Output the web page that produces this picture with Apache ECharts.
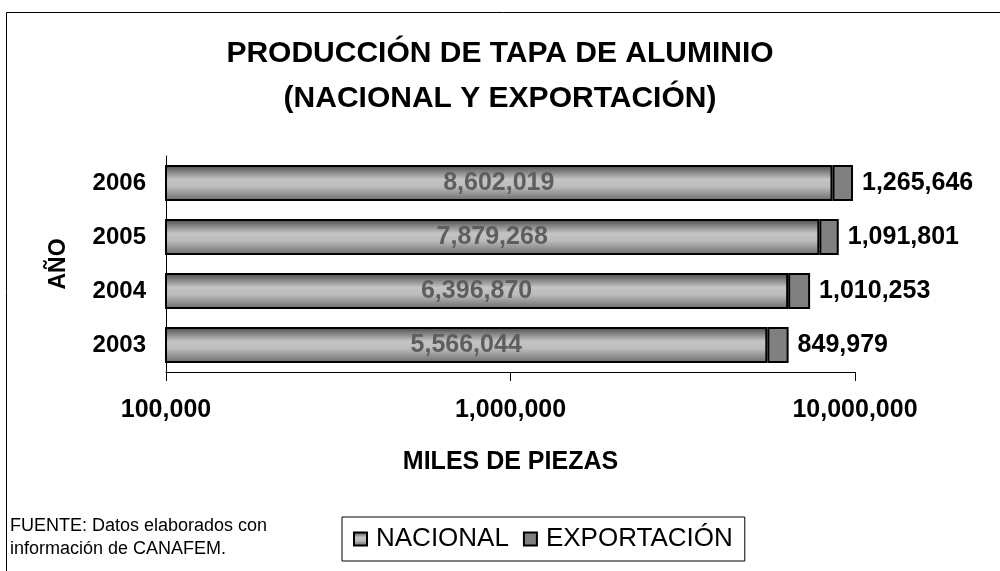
<!DOCTYPE html>
<html>
<head>
<meta charset="utf-8">
<script src="https://cdn.jsdelivr.net/npm/echarts@6/dist/echarts.min.js"></script>
<style>
  html, body { margin: 0; padding: 0; background: #fff; }
  #chart { width: 1000px; height: 571px; }
</style>
</head>
<body>
<div id="chart"></div>
<script>
// datos del gráfico
const years = ['2003', '2004', '2005', '2006'];
const nacional = [5566044, 6396870, 7879268, 8602019];
const exportacion = [849979, 1010253, 1091801, 1265646];
const xTicks = [100000, 1000000, 10000000];

const SANS = '"Liberation Sans", Arial, sans-serif';

const fmt = v => Number(v).toLocaleString('en-US');

const chart = echarts.init(document.getElementById('chart'));

const option = {
  backgroundColor: '#fff',
  animation: false,
  title: {
    text: 'PRODUCCIÓN DE TAPA DE ALUMINIO\n(NACIONAL Y EXPORTACIÓN)',
    left: 'center',
    top: 26,
    textStyle: { fontFamily: SANS, fontWeight: 'bold', fontSize: 30, lineHeight: 45, color: '#000' }
  },
  legend: {
    left: 342,
    top: 517,
    padding: [9, 12, 9, 11],
    borderColor: '#000',
    borderWidth: 1,
    itemWidth: 13,
    itemHeight: 13,
    itemGap: 14,
    icon: 'rect',
    textStyle: { fontFamily: SANS, fontSize: 26, color: '#000', padding: [0, 0, 0, 4] },
    data: ['NACIONAL', 'EXPORTACIÓN']
  },
  grid: { left: 166, right: 145, top: 156, bottom: 199 },
  xAxis: {
    type: 'log',
    logBase: 10,
    min: xTicks[0],
    max: xTicks[xTicks.length - 1],
    name: 'MILES DE PIEZAS',
    nameLocation: 'middle',
    nameGap: 78,
    nameTextStyle: { fontFamily: SANS, fontWeight: 'bold', fontSize: 25, color: '#000' },
    axisLine: { show: true, lineStyle: { color: '#000', width: 1 } },
    axisTick: { show: true, inside: false, length: 9, lineStyle: { color: '#000' } },
    splitLine: { show: false },
    minorTick: { show: false },
    axisLabel: {
      margin: 26,
      fontFamily: SANS,
      fontWeight: 'bold',
      fontSize: 25,
      color: '#000',
      formatter: v => fmt(v)
    }
  },
  yAxis: {
    type: 'category',
    data: years,
    name: 'AÑO',
    nameLocation: 'middle',
    nameRotate: 90,
    nameGap: 96,
    nameTextStyle: { fontFamily: SANS, fontWeight: 'bold', fontSize: 23, color: '#000' },
    axisLine: { show: true, lineStyle: { color: '#000', width: 1 } },
    axisTick: { show: false },
    axisLabel: { margin: 20, fontFamily: SANS, fontWeight: 'bold', fontSize: 24, color: '#000' }
  },
  series: [
    {
      name: 'NACIONAL',
      type: 'bar',
      stack: 'total',
      barWidth: 36,
      clip: true,
      data: nacional,
      itemStyle: {
        color: new echarts.graphic.LinearGradient(0, 0, 0, 1, [
          { offset: 0, color: '#4a4a4a' },
          { offset: 0.4, color: '#c4c4c4' },
          { offset: 0.6, color: '#bcbcbc' },
          { offset: 1, color: '#6a6a6a' }
        ]),
        borderColor: '#000',
        borderWidth: 2
      },
      label: {
        show: true,
        position: 'inside',
        fontFamily: SANS,
        fontWeight: 'bold',
        fontSize: 25,
        color: '#5e5e5e',
        formatter: p => fmt(p.value)
      }
    },
    {
      name: 'EXPORTACIÓN',
      type: 'bar',
      stack: 'total',
      barWidth: 36,
      clip: true,
      data: exportacion,
      itemStyle: { color: '#808080', borderColor: '#000', borderWidth: 2 },
      label: {
        show: true,
        position: 'right',
        distance: 9,
        fontFamily: SANS,
        fontWeight: 'bold',
        fontSize: 25,
        color: '#000',
        formatter: p => fmt(p.value)
      }
    }
  ],
  graphic: [
    {
      type: 'rect',
      left: 4,
      top: 10,
      shape: { width: 1000, height: 580 },
      style: { fill: 'none', stroke: '#000', lineWidth: 1 },
      silent: true,
      z: -1
    },
    {
      type: 'text',
      left: 10,
      top: 515,
      style: {
        text: 'FUENTE: Datos elaborados con\ninformación de CANAFEM.',
        fontFamily: SANS,
        fontSize: 18,
        lineHeight: 23,
        fill: '#000'
      }
    }
  ]
};

chart.setOption(option);
</script>
</body>
</html>
